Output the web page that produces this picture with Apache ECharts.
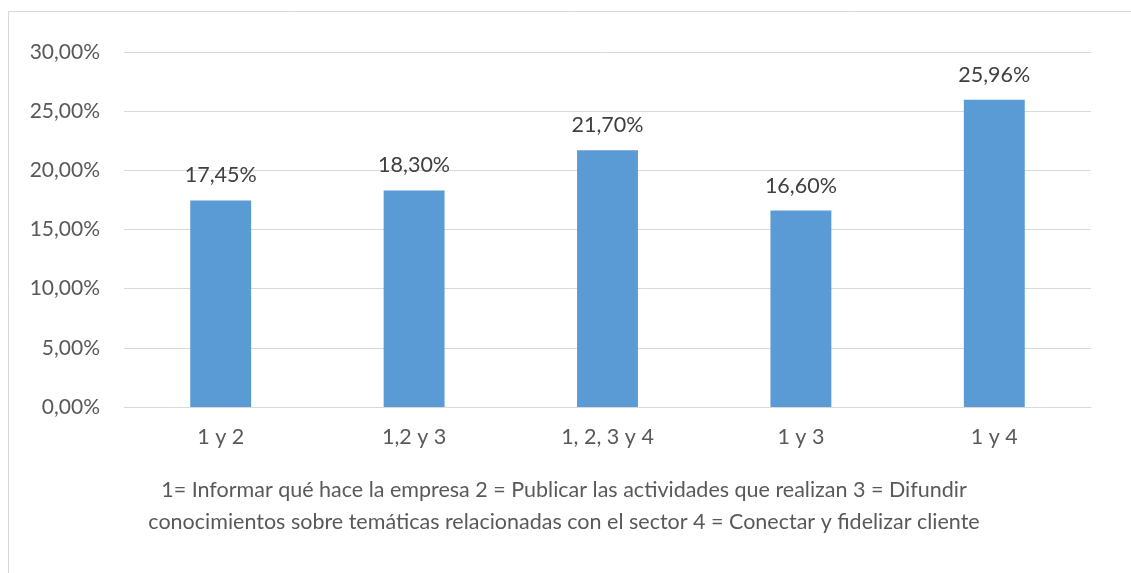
<!DOCTYPE html>
<html>
<head>
<meta charset="utf-8">
<script src="https://cdn.jsdelivr.net/npm/echarts@6/dist/echarts.min.js"></script>
<style>
html,body{margin:0;padding:0;background:#fff;}
#c{width:1131px;height:573px;}
</style>
</head>
<body>
<div id="c"></div>
<script>
const categories = ['1 y 2', '1,2 y 3', '1, 2, 3 y 4', '1 y 3', '1 y 4'];
const values = [17.45, 18.30, 21.70, 16.60, 25.96];
const footnote = '1= Informar qué hace la empresa 2 = Publicar las actividades que realizan 3 = Difundir\nconocimientos sobre temáticas relacionadas con el sector 4 = Conectar y fidelizar cliente';

const fmt = v => v.toFixed(2).replace('.', ',') + '%';
const FONT = 'Lato';

const chart = echarts.init(document.getElementById('c'));
chart.setOption({
  animation: false,
  textStyle: { fontFamily: FONT },
  grid: { left: 124, right: 40, top: 52, bottom: 166 },
  xAxis: {
    type: 'category',
    data: categories,
    axisLine: { lineStyle: { color: '#d9d9d9', width: 1 } },
    axisTick: { show: false },
    axisLabel: { color: '#595959', fontSize: 21.5, fontFamily: FONT, margin: 19 }
  },
  yAxis: {
    type: 'value',
    min: 0, max: 30, interval: 5,
    axisLine: { show: false },
    axisTick: { show: false },
    splitLine: { lineStyle: { color: '#d9d9d9', width: 1 } },
    axisLabel: { color: '#595959', fontSize: 21, fontFamily: FONT, margin: 24, formatter: fmt }
  },
  series: [{
    type: 'bar',
    data: values,
    barWidth: '31.5%',
    itemStyle: { color: '#5B9BD5' },
    label: {
      show: true, position: 'top', distance: 14,
      color: '#404040', fontSize: 21.5, fontFamily: FONT,
      formatter: p => fmt(p.value)
    }
  }],
  graphic: [
    { type: 'rect', silent: true, shape: { x: 8.5, y: 11.5, width: 1300, height: 800 },
      style: { fill: 'none', stroke: '#d9d9d9', lineWidth: 1 } },
    { type: 'text', silent: true, x: 564, y: 506,
      style: { text: footnote, textAlign: 'center', textVerticalAlign: 'middle',
        fontSize: 21.5, lineHeight: 32, fill: '#595959', fontFamily: FONT } }
  ]
});
</script>
</body>
</html>
